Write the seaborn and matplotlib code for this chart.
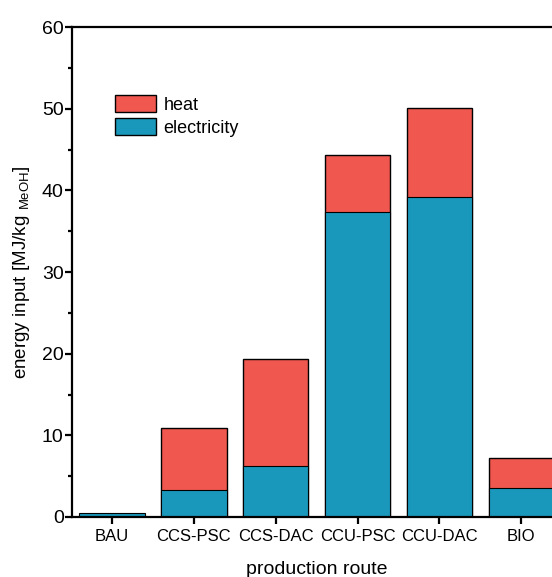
import matplotlib
matplotlib.use("Agg")
import matplotlib.pyplot as plt
import seaborn as sns
import pandas as pd
from matplotlib.patches import Patch
from matplotlib.ticker import MultipleLocator

routes = ["BAU", "CCS-PSC", "CCS-DAC", "CCU-PSC", "CCU-DAC", "BIO"]
electricity = [0.5, 3.3, 6.3, 37.3, 39.2, 3.6]
heat = [0.0, 7.6, 13.1, 7.0, 10.9, 3.6]

HEAT_COLOR = "#F0574E"
ELEC_COLOR = "#1A98BB"

sns.set_theme(style="ticks")
plt.rcParams["font.family"] = ["Liberation Sans", "DejaVu Sans"]
plt.rcParams["mathtext.fontset"] = "custom"
plt.rcParams["mathtext.rm"] = "Liberation Sans"
plt.rcParams["text.color"] = "black"
plt.rcParams["axes.labelcolor"] = "black"
plt.rcParams["xtick.color"] = "black"
plt.rcParams["ytick.color"] = "black"

df = pd.DataFrame({"route": routes, "electricity": electricity, "heat": heat})
df["total"] = df["electricity"] + df["heat"]

fig = plt.figure(figsize=(5.52, 5.77), dpi=100)
ax = fig.add_axes([0.1304, 0.104, 0.888, 0.849])

# total stack first (heat shows on top), electricity drawn over it
sns.barplot(data=df[df["heat"] > 0], x="route", y="total", color=HEAT_COLOR,
            saturation=1, edgecolor="black", linewidth=1, width=0.8,
            order=routes, ax=ax)
sns.barplot(data=df, x="route", y="electricity", color=ELEC_COLOR, saturation=1,
            edgecolor="black", linewidth=0.8, width=0.8, order=routes, ax=ax)

ax.set_xlim(-0.49, 5.5)
ax.set_ylim(0, 60)
ax.yaxis.set_major_locator(MultipleLocator(10))
ax.yaxis.set_minor_locator(MultipleLocator(5))

for side in ["left", "bottom", "top"]:
    ax.spines[side].set_linewidth(1.6)
    ax.spines[side].set_color("black")
ax.spines["right"].set_visible(False)

ax.tick_params(axis="y", which="major", direction="out", length=5, width=1.6,
               labelsize=14, pad=1)
ax.tick_params(axis="y", which="minor", direction="out", length=3, width=1.6)
ax.tick_params(axis="x", direction="out", length=5, width=1.6, labelsize=12, pad=4)

ax.set_xlabel("production route", fontsize=14, labelpad=12)
ax.set_ylabel(r"energy input [MJ/kg $_{\mathrm{MeOH}}$]", fontsize=13.5, labelpad=7)

handles = [Patch(facecolor=HEAT_COLOR, edgecolor="black", linewidth=1, label="heat"),
           Patch(facecolor=ELEC_COLOR, edgecolor="black", linewidth=1, label="electricity")]
ax.legend(handles=handles, loc="upper left", bbox_to_anchor=(0.087, 0.862),
          frameon=False, fontsize=13, handlelength=2.3, handleheight=1.1,
          labelspacing=0.25, handletextpad=0.4, borderpad=0, borderaxespad=0)

fig.savefig("out.png", dpi=100)
